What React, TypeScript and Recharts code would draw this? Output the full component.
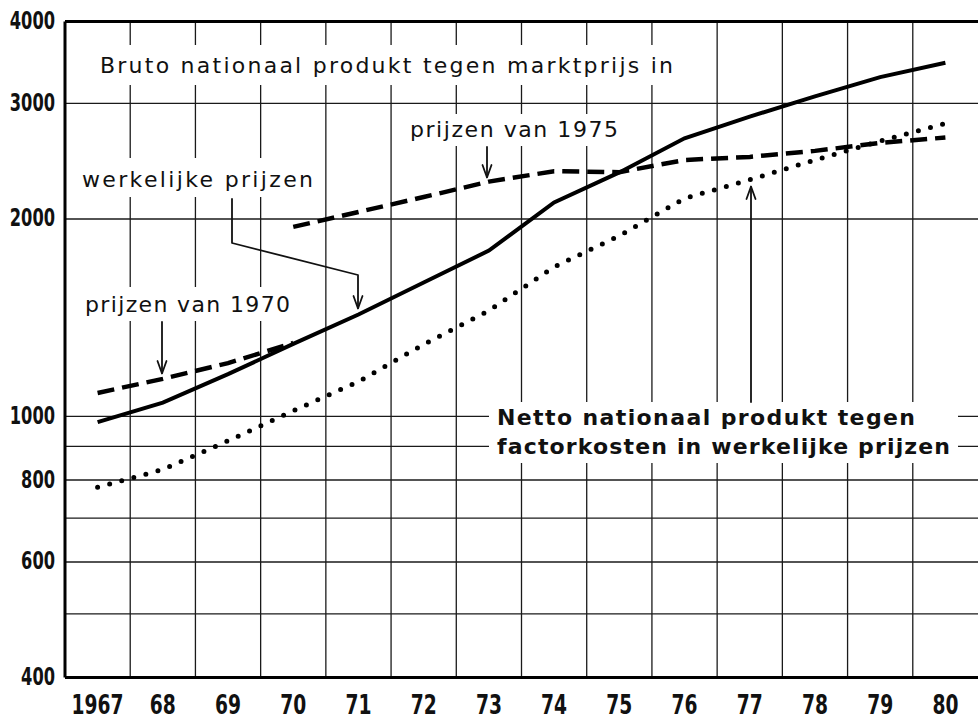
import React from 'react';
import { LineChart, Line, XAxis, YAxis, CartesianGrid, ReferenceLine } from 'recharts';

const years = [1967, 1968, 1969, 1970, 1971, 1972, 1973, 1974, 1975, 1976, 1977, 1978, 1979, 1980];
const yearLabels = ['1967', '68', '69', '70', '71', '72', '73', '74', '75', '76', '77', '78', '79', '80'];

// Bruto nationaal produkt tegen marktprijs in werkelijke prijzen
const bnpActual = [980, 1050, 1160, 1290, 1430, 1600, 1790, 2120, 2355, 2655, 2865, 3075, 3290, 3460];
// Bruto nationaal produkt in prijzen van 1970
const bnpPrices1970 = [1086, 1141, 1206, 1294, null, null, null, null, null, null, null, null, null, null];
// Bruto nationaal produkt in prijzen van 1975
const bnpPrices1975 = [null, null, null, 1945, 2050, 2160, 2280, 2365, 2357, 2460, 2487, 2540, 2612, 2662];
// Netto nationaal produkt tegen factorkosten in werkelijke prijzen
const nnpActual = [780, 830, 918, 1020, 1130, 1288, 1450, 1690, 1885, 2150, 2295, 2460, 2630, 2796];

const yTicks = [400, 500, 600, 700, 800, 900, 1000, 2000, 3000, 4000];
const yLabelled = [400, 600, 800, 1000, 2000, 3000, 4000];

const data = years.map((year, i) => ({
  year,
  actual: bnpActual[i],
  p1970: bnpPrices1970[i],
  p1975: bnpPrices1975[i],
  nnp: nnpActual[i],
}));

const gridYears = years.slice(1).map((y) => y - 0.5);

const FONT = '"DejaVu Sans", sans-serif';
const COND = '"DejaVu Sans Condensed", "DejaVu Sans", sans-serif';
const INK = '#111';

const XTick = (props: any) => {
  const { x, y, payload } = props;
  const idx = years.indexOf(payload.value);
  const label = idx >= 0 ? yearLabels[idx] : String(payload.value);
  return (
    <text
      x={x}
      y={y}
      dy={36.5}
      textAnchor="middle"
      fontFamily={COND}
      fontWeight="bold"
      fontSize={26}
      fill={INK}
      textLength={label.length * 13}
      lengthAdjust="spacingAndGlyphs"
    >
      {label}
    </text>
  );
};

const YTick = (props: any) => {
  const { x, y, payload } = props;
  if (!yLabelled.includes(payload.value)) return <g />;
  const label = String(payload.value);
  return (
    <text
      x={x}
      y={y}
      dy={7.5}
      textAnchor="end"
      fontFamily={COND}
      fontWeight="bold"
      fontSize={24}
      fill={INK}
      textLength={label.length * 11.3}
      lengthAdjust="spacingAndGlyphs"
    >
      {label}
    </text>
  );
};

const Label = ({ x, y, w, text, bold }: { x: number; y: number; w: number; text: string; bold?: boolean }) => (
  <text
    x={x}
    y={y}
    fontFamily={FONT}
    fontSize={22}
    fontWeight={bold ? 'bold' : 'normal'}
    fill={INK}
    textLength={w}
    lengthAdjust="spacing"
  >
    {text}
  </text>
);

const Annotations = () => (
  <svg
    width={978}
    height={722}
    style={{ position: 'absolute', left: 0, top: 0, pointerEvents: 'none' }}
  >
    {/* white backgrounds hiding the grid behind labels */}
    <rect x={68} y={45} width={622} height={40} fill="#fff" />
    <rect x={403} y={114} width={222} height={32} fill="#fff" />
    <rect x={76} y={158} width={242} height={39} fill="#fff" />
    <rect x={80} y={287} width={217} height={34} fill="#fff" />
    <rect x={489} y={402} width={469} height={61} fill="#fff" />

    <Label x={100} y={73} w={573} text="Bruto nationaal produkt tegen marktprijs in" />
    <Label x={410} y={137} w={208} text="prijzen van 1975" />
    <Label x={82} y={187} w={231} text="werkelijke prijzen" />
    <Label x={85} y={312} w={205} text="prijzen van 1970" />
    <Label x={497} y={425} w={418} text="Netto nationaal produkt tegen" bold />
    <Label x={497} y={454} w={453} text="factorkosten in werkelijke prijzen" bold />

    <g stroke={INK} strokeWidth={1.8} fill="none" strokeLinecap="round" strokeLinejoin="round">
      {/* prijzen van 1975 arrow */}
      <path d="M487 147 L487 177" />
      <path d="M482.5 165 L487 177.5 L491.5 165" />
      {/* werkelijke prijzen connector */}
      <path d="M232 199 L232 243 L358 275 L358 308" />
      <path d="M353.5 296 L358 308.5 L362.5 296" />
      {/* prijzen van 1970 arrow */}
      <path d="M162 322 L162 373" />
      <path d="M157.5 361 L162 373.5 L166.5 361" />
      {/* netto arrow */}
      <path d="M751 402 L751 187" />
      <path d="M746.5 199 L751 186.5 L755.5 199" />
    </g>
  </svg>
);

export default function App() {
  return (
    <div
      style={{
        position: 'absolute',
        left: 0,
        top: 0,
        width: 978,
        height: 722,
        background: '#fff',
        overflow: 'hidden',
      }}
    >
      <LineChart width={978} height={722} data={data} margin={{ top: 21.5, right: 0, bottom: 0, left: 0 }}>
        <CartesianGrid vertical={false} stroke="#1a1a1a" strokeWidth={1.3} />
        {gridYears.map((g) => (
          <ReferenceLine key={g} x={g} stroke="#1a1a1a" strokeWidth={1.3} />
        ))}
        <ReferenceLine y={4000} stroke="#000" strokeWidth={3} />
        <XAxis
          dataKey="year"
          type="number"
          domain={[1966.5, 1980.5]}
          ticks={years}
          interval={0}
          height={44.5}
          tickLine={false}
          tickSize={0}
          tickMargin={0}
          axisLine={{ stroke: '#000', strokeWidth: 3 }}
          tick={(p: any) => <XTick {...p} />}
          allowDataOverflow
        />
        <YAxis
          type="number"
          scale="log"
          domain={[400, 4000]}
          ticks={yTicks}
          interval={0}
          width={65}
          tickLine={false}
          tickSize={0}
          tickMargin={10}
          axisLine={{ stroke: '#000', strokeWidth: 3 }}
          tick={(p: any) => <YTick {...p} />}
          allowDataOverflow
        />
        <Line
          dataKey="nnp"
          type="linear"
          stroke="#000"
          strokeWidth={5}
          strokeDasharray="0 12.5"
          strokeLinecap="round"
          dot={false}
          activeDot={false}
          isAnimationActive={false}
        />
        <Line
          dataKey="p1970"
          type="linear"
          stroke="#000"
          strokeWidth={4.5}
          strokeDasharray="17 8"
          dot={false}
          activeDot={false}
          connectNulls={false}
          isAnimationActive={false}
        />
        <Line
          dataKey="p1975"
          type="linear"
          stroke="#000"
          strokeWidth={4.5}
          strokeDasharray="17 8"
          dot={false}
          activeDot={false}
          connectNulls={false}
          isAnimationActive={false}
        />
        <Line
          dataKey="actual"
          type="linear"
          stroke="#000"
          strokeWidth={4}
          dot={false}
          activeDot={false}
          isAnimationActive={false}
        />
      </LineChart>
      <Annotations />
    </div>
  );
}
